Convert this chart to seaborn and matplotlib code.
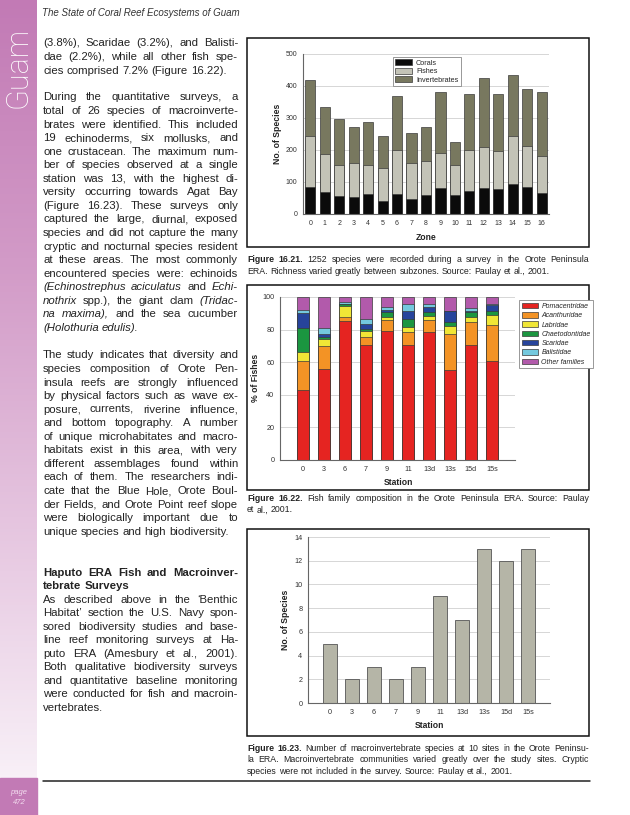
import numpy as np
import pandas as pd
import matplotlib
matplotlib.use("Agg")
import matplotlib.pyplot as plt
from matplotlib.patches import Rectangle, Patch
from matplotlib.colors import LinearSegmentedColormap
import seaborn as sns

# ---- Figure 16.21: species per zone ----
zones = [str(z) for z in range(17)]
corals = [85, 68, 57, 54, 61, 42, 64, 46, 58, 80, 58, 71, 80, 77, 94, 84, 67]
fishes = [160, 119, 95, 106, 91, 103, 136, 112, 107, 110, 94, 129, 130, 121, 151, 129, 113]
invertebrates = [175, 146, 145, 111, 136, 100, 168, 94, 108, 192, 72, 174, 215, 176, 188, 178, 202]

# ---- Figure 16.22: fish family composition (%) ----
stations = ["0", "3", "6", "7", "9", "11", "13d", "13s", "15d", "15s"]
pomacentridae = [43, 56, 85.5, 70.7, 79.3, 70.7, 78.7, 55.5, 70.7, 61]
acanthuridae = [18, 14, 2, 4.5, 6.6, 7.8, 7, 21.8, 14.1, 21.6]
labridae = [5, 4, 7, 3.7, 1.8, 2.9, 2.8, 4.7, 3.1, 6.5]
chaetodontidae = [15, 1.2, 1, 1.4, 2.9, 4.9, 2.3, 2.8, 2.7, 2.1]
scaridae = [9, 2, 0.3, 3.3, 1.2, 4.9, 3.3, 6.4, 0.6, 4.1]
balistidae = [2, 4, 1.2, 3, 1.8, 4.5, 1.8, 0.2, 1.8, 0.4]
other_families = [8, 18.8, 3, 13.4, 6.4, 4.3, 4.1, 8.6, 7, 4.3]

# ---- Figure 16.23: macroinvertebrate species per station ----
macro_species = [5, 2, 3, 2, 3, 9, 7, 13, 12, 13]

W, H = 630, 815
TEXT = "#222222"
EDGE = "#3a3a3a"

sns.set_style("white")
plt.rcParams["font.family"] = ["Liberation Sans", "DejaVu Sans"]

fig = plt.figure(figsize=(W / 100, H / 100), dpi=100)
page = fig.add_axes([0, 0, 1, 1])
page.axis("off")
renderer = fig.canvas.get_renderer()


def px_axes(x0, y0, x1, y1):
    """Axes placed by page pixel coordinates (top-left origin)."""
    return fig.add_axes([x0 / W, 1 - y1 / H, (x1 - x0) / W, (y1 - y0) / H])


def draw_line(line, x, y, width, size, justify, weight="normal"):
    texts = []
    for tok in line.split():
        style, wt = "normal", weight
        if tok.startswith("~") and tok.endswith("~"):
            tok, style = tok[1:-1], "italic"
        if tok.startswith("^") and tok.endswith("^"):
            tok, wt = tok[1:-1], "bold"
        texts.append(page.text(x, y, tok, fontsize=size, style=style, weight=wt,
                               color=TEXT, ha="left", va="baseline"))
    widths = [t.get_window_extent(renderer).width for t in texts]
    gap = size * 0.28 * 100 / 72
    if justify and len(texts) > 1:
        gap = (width - sum(widths)) / (len(texts) - 1)
    cx = x
    for t, w in zip(texts, widths):
        t.set_x(cx)
        cx += w + gap


def draw_block(lines, x, y0, width, size, step, weight="normal", last_left=True):
    for i, line in enumerate(lines):
        just = not (last_left and i == len(lines) - 1)
        draw_line(line, x, y0 + i * step, width, size, just, weight)


def stacked_bars(ax, cats, layers, colors, width):
    running = np.zeros(len(cats))
    tops = []
    for vals in layers:
        running = running + np.asarray(vals, dtype=float)
        tops.append(running.copy())
    # tallest first, shorter cumulative bars drawn over it
    for top, col in reversed(list(zip(tops, colors))):
        sns.barplot(x=cats, y=top, order=cats, color=col, width=width, saturation=1,
                    edgecolor=EDGE, linewidth=0.5, errorbar=None, ax=ax)


def style_axes(ax, x_label, y_label, xlab_px, ylab_px, tick_size=4.8):
    for s in ["top", "right"]:
        ax.spines[s].set_visible(False)
    for s in ["left", "bottom"]:
        ax.spines[s].set_color("#666666")
        ax.spines[s].set_linewidth(0.8)
    ax.yaxis.grid(True, color="#d0d0d0", linewidth=0.6)
    ax.set_axisbelow(True)
    ax.tick_params(labelsize=tick_size, length=2, width=0.6, color="#666666",
                   labelcolor="#333333", pad=2)
    ax.set_xlabel(x_label, fontsize=6.2, weight="bold", color=TEXT)
    ax.set_ylabel(y_label, fontsize=6.2, weight="bold", color=TEXT)
    # put labels at page pixel positions
    inv = ax.transAxes.inverted()
    xl = inv.transform((xlab_px[0], H - xlab_px[1]))
    yl = inv.transform((ylab_px[0], H - ylab_px[1]))
    ax.xaxis.set_label_coords(xl[0], xl[1])
    ax.yaxis.set_label_coords(yl[0], yl[1])
    ax.xaxis.label.set_va("center")
    ax.yaxis.label.set_va("center")


# ---- page decoration ----
side = LinearSegmentedColormap.from_list(
    "side", ["#c27ab5", "#d29ac7", "#e5c4df", "#f8f0f7"])
page.imshow(np.linspace(0, 1, 256).reshape(-1, 1), cmap=side, aspect="auto",
            extent=(0, 37, 778, 0))
page.add_patch(Rectangle((0, 778), 37, 37, color="#c27ab5"))
page.set_xlim(0, W)
page.set_ylim(H, 0)
page.text(18, 67, "Guam", rotation=90, fontsize=22, color="white",
          ha="center", va="center", family=["Roboto", "Liberation Sans"], weight="light")
page.text(19, 792, "page", fontsize=5.5, style="italic", color="#f3dcef",
          ha="center", va="center")
page.text(19, 802, "472", fontsize=5.5, style="italic", color="#f3dcef",
          ha="center", va="center")
page.text(42, 13, "The State of Coral Reef Ecosystems of Guam", fontsize=7.0,
          style="italic", color="#333333", ha="left", va="center")
page.plot([43, 590], [781, 781], color="#222222", lw=1.1)

# ---- left column text ----
LX, LW, FS, STEP = 43, 195, 8.2, 13.55
para1 = ["(3.8%), Scaridae (3.2%), and Balisti-",
         "dae (2.2%), while all other fish spe-",
         "cies comprised 7.2% (Figure 16.22)."]
para2 = ["During the quantitative surveys, a",
         "total of 26 species of macroinverte-",
         "brates were identified. This included",
         "19 echinoderms, six mollusks, and",
         "one crustacean. The maximum num-",
         "ber of species observed at a single",
         "station was 13, with the highest di-",
         "versity occurring towards Agat Bay",
         "(Figure 16.23). These surveys only",
         "captured the large, diurnal, exposed",
         "species and did not capture the many",
         "cryptic and nocturnal species resident",
         "at these areas. The most commonly",
         "encountered species were: echinoids",
         "~(Echinostrephus~ ~aciculatus~ and ~Echi-~",
         "~nothrix~ spp.), the giant clam ~(Tridac-~",
         "~na~ ~maxima),~ and the sea cucumber",
         "~(Holothuria~ ~edulis).~"]
para3 = ["The study indicates that diversity and",
         "species composition of Orote Pen-",
         "insula reefs are strongly influenced",
         "by physical factors such as wave ex-",
         "posure, currents, riverine influence,",
         "and bottom topography. A number",
         "of unique microhabitates and macro-",
         "habitats exist in this area, with very",
         "different assemblages found within",
         "each of them. The researchers indi-",
         "cate that the Blue Hole, Orote Boul-",
         "der Fields, and Orote Point reef slope",
         "were biologically important due to",
         "unique species and high biodiversity."]
heading = ["Haputo ERA Fish and Macroinver-", "tebrate Surveys"]
para4 = ["As described above in the \u2018Benthic",
         "Habitat\u2019 section the U.S. Navy spon-",
         "sored biodiversity studies and base-",
         "line reef monitoring surveys at Ha-",
         "puto ERA (Amesbury et al., 2001).",
         "Both qualitative biodiversity surveys",
         "and quantitative baseline monitoring",
         "were conducted for fish and macroin-",
         "vertebrates."]

draw_block(para1, LX, 46.5, LW, FS, STEP)
draw_block(para2, LX, 100.5, LW, FS, STEP)
draw_block(para3, LX, 358.5, LW, FS, STEP)
draw_block(heading, LX, 575.5, LW, FS, STEP, weight="bold")
draw_block(para4, LX, 575.5 + 2 * STEP, LW, FS, STEP)

# ---- figure boxes and captions ----
CX, CW, CFS, CSTEP = 247, 342, 6.3, 11.5
for (y0, y1) in [(38, 247), (285, 490), (529, 736)]:
    page.add_patch(Rectangle((247, y0), 342, y1 - y0, fill=False,
                             edgecolor="#111111", lw=1.1))
cap1 = ["^Figure^ ^16.21.^ 1252 species were recorded during a survey in the Orote Peninsula",
        "ERA. Richness varied greatly between subzones. Source: Paulay et al., 2001."]
cap2 = ["^Figure^ ^16.22.^ Fish family composition in the Orote Peninsula ERA. Source: Paulay",
        "et al., 2001."]
cap3 = ["^Figure^ ^16.23.^ Number of macroinvertebrate species at 10 sites in the Orote Peninsu-",
        "la ERA. Macroinvertebrate communities varied greatly over the study sites. Cryptic",
        "species were not included in the survey. Source: Paulay et al., 2001."]
draw_block(cap1, CX, 262, CW, CFS, CSTEP)
draw_block(cap2, CX, 501, CW, CFS, CSTEP)
draw_block(cap3, CX, 751, CW, CFS, CSTEP)

# ---- chart 1: stacked species by zone ----
ax1 = px_axes(303, 54, 549, 214)
c1 = ["#0b0b0b", "#c3c3b7", "#78785f"]
stacked_bars(ax1, zones, [corals, fishes, invertebrates], c1, 0.7)
ax1.set_xlim(-0.5, 16.5)
ax1.set_ylim(0, 500)
ax1.set_yticks(range(0, 501, 100))
style_axes(ax1, "Zone", "No. of Species", (426, 237), (278, 134), tick_size=5.0)
h1 = [Patch(facecolor=c, edgecolor=EDGE, linewidth=0.5, label=l)
      for c, l in zip(c1, ["Corals", "Fishes", "Invertebrates"])]
ax1.legend(handles=h1, loc="upper left", bbox_to_anchor=(389 / W, 1 - 53 / H),
           bbox_transform=fig.transFigure, fontsize=5.2, frameon=True, fancybox=False,
           edgecolor="#888888", framealpha=1, borderpad=0.35, labelspacing=0.15,
           handlelength=2.4, handleheight=0.9, handletextpad=0.5
           ).get_frame().set_linewidth(0.6)

# ---- chart 2: fish family composition ----
ax2 = px_axes(280, 297, 515, 460)
families = ["Pomacentridae", "Acanthuridae", "Labridae", "Chaetodontidae",
            "Scaridae", "Balistidae", "Other families"]
c2 = ["#e52421", "#f39325", "#f0e636", "#1b9640", "#27449b", "#74c9de", "#b25aab"]
stacked_bars(ax2, stations, [pomacentridae, acanthuridae, labridae, chaetodontidae,
                             scaridae, balistidae, other_families], c2, 0.6)
ax2.set_xlim(-1.1, 10.1)
ax2.set_ylim(0, 100)
ax2.set_yticks(range(0, 101, 20))
style_axes(ax2, "Station", "% of Fishes", (398, 483), (256, 378), tick_size=5.2)
h2 = [Patch(facecolor=c, edgecolor=EDGE, linewidth=0.5, label=l)
      for c, l in zip(c2, families)]
leg2 = ax2.legend(handles=h2, loc="upper left", bbox_to_anchor=(516 / W, 1 - 297 / H),
                  bbox_transform=fig.transFigure, frameon=True,
                  fancybox=False, edgecolor="#888888", framealpha=1, borderpad=0.35,
                  labelspacing=0.32, handlelength=2.3, handleheight=0.8,
                  handletextpad=0.5, prop={"style": "italic", "size": 5.0})
leg2.get_frame().set_linewidth(0.6)

# ---- chart 3: macroinvertebrate species ----
ax3 = px_axes(308, 537, 550, 703)
df3 = pd.DataFrame({"Station": stations, "Species": macro_species})
sns.barplot(data=df3, x="Station", y="Species", order=stations, color="#b5b5a7",
            saturation=1, width=0.61, edgecolor="#555555", linewidth=0.6,
            errorbar=None, ax=ax3)
ax3.set_xlim(-1, 10)
ax3.set_ylim(0, 14)
ax3.set_yticks(range(0, 15, 2))
style_axes(ax3, "Station", "No. of Species", (429, 726), (286, 620), tick_size=5.2)

fig.savefig("out.png", dpi=100)
